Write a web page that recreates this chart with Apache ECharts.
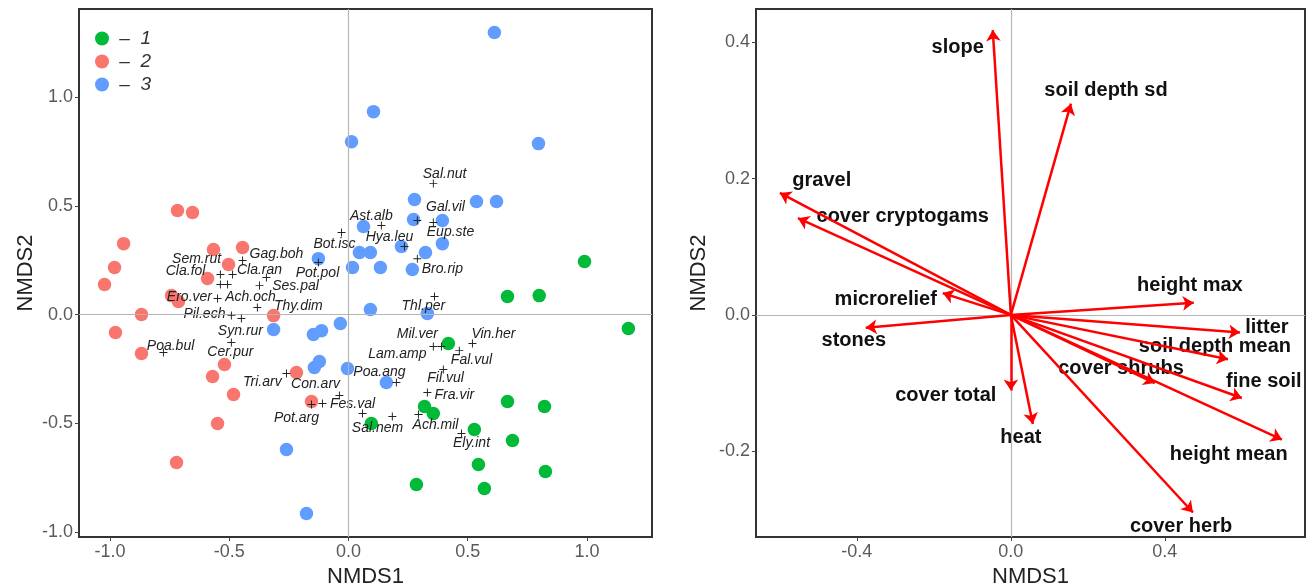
<!DOCTYPE html>
<html>
<head>
<meta charset="utf-8">
<script src="https://cdn.jsdelivr.net/npm/echarts@6/dist/echarts.min.js"></script>
<style>
html,body{margin:0;padding:0;background:#fff;}
#chart{width:1316px;height:585px;}
</style>
</head>
<body>
<div id="chart"></div>
<script>
// ---------- DATA ----------
const groupNames = ['1', '2', '3'];
// site scores (NMDS1, NMDS2) per group
const group1 = [[0.99,0.244],[0.667,0.083],[0.80,0.087],[1.174,-0.064],[0.419,-0.133],[0.319,-0.423],[0.356,-0.455],[0.667,-0.40],[0.822,-0.423],[0.096,-0.501],[0.528,-0.529],[0.688,-0.579],[0.545,-0.690],[0.826,-0.722],[0.285,-0.782],[0.570,-0.80]];
const group2 = [[-0.717,0.478],[-0.654,0.469],[-0.943,0.326],[-0.981,0.216],[-1.023,0.138],[-0.566,0.299],[-0.444,0.308],[-0.503,0.230],[-0.591,0.166],[-0.742,0.087],[-0.713,0.060],[-0.868,0.0],[-0.314,-0.005],[-0.977,-0.083],[-0.868,-0.179],[-0.520,-0.230],[-0.570,-0.285],[-0.218,-0.267],[-0.482,-0.368],[-0.155,-0.40],[-0.549,-0.501],[-0.721,-0.680]];
const group3 = [[0.612,1.297],[0.105,0.933],[0.013,0.795],[0.797,0.786],[0.277,0.529],[0.537,0.520],[0.621,0.520],[0.063,0.405],[0.273,0.437],[0.394,0.432],[0.394,0.326],[0.222,0.313],[0.046,0.285],[0.092,0.285],[0.323,0.285],[-0.126,0.257],[0.017,0.216],[0.134,0.216],[0.268,0.207],[0.092,0.023],[0.331,0.005],[-0.034,-0.041],[-0.113,-0.074],[-0.147,-0.092],[-0.314,-0.069],[-0.143,-0.244],[-0.122,-0.216],[-0.004,-0.248],[0.159,-0.313],[-0.260,-0.621],[-0.176,-0.915]];
// species scores (+ markers)
const speciesNames = ['Sal.nut','Ast.alb','Gal.vil','Eup.ste','Bot.isc','Hya.leu','Bro.rip','Pot.pol','Gag.boh','Sem.rut','Cla.fol','Cla.ran','Ero.ver','Ach.och','Ses.pal','','Thy.dim','Pil.ech','Syn.rur','Cer.pur','Poa.bul','Tri.arv','Con.arv','Fes.val','Pot.arg','Sal.nem','','Ach.mil','Ely.int','Fra.vir','Fil.vul','Fal.vul','Lam.amp','Mil.ver','Vin.her','Thl.per','Poa.ang'];
const speciesScores = [[0.356,0.602],[0.138,0.409],[0.289,0.432],[0.356,0.423],[-0.029,0.377],[0.235,0.313],[0.289,0.257],[-0.126,0.239],[-0.444,0.248],[-0.537,0.184],[-0.486,0.184],[-0.344,0.170],[-0.537,0.138],[-0.507,0.138],[-0.373,0.133],[-0.549,0.074],[-0.382,0.032],[-0.491,-0.005],[-0.449,-0.018],[-0.491,-0.129],[-0.776,-0.175],[-0.260,-0.271],[-0.038,-0.372],[-0.109,-0.409],[-0.155,-0.414],[0.059,-0.455],[0.184,-0.469],[0.294,-0.460],[0.474,-0.547],[0.331,-0.359],[0.398,-0.253],[0.465,-0.166],[0.390,-0.147],[0.356,-0.147],[0.520,-0.133],[0.361,0.083],[0.201,-0.313]];
// species label anchor points (data units)
const speciesLabelPos = [[0.403,0.648],[0.096,0.451],[0.407,0.492],[0.428,0.377],[-0.059,0.322],[0.172,0.354],[0.394,0.207],[-0.130,0.189],[-0.302,0.280],[-0.637,0.253],[-0.683,0.198],[-0.373,0.202],[-0.667,0.078],[-0.411,0.078],[-0.222,0.133],null,[-0.210,0.037],[-0.604,0.0],[-0.453,-0.078],[-0.495,-0.175],[-0.746,-0.143],[-0.361,-0.313],[-0.138,-0.322],[0.017,-0.414],[-0.218,-0.478],[0.122,-0.520],null,[0.365,-0.510],[0.516,-0.589],[0.444,-0.372],[0.407,-0.294],[0.516,-0.211],[0.205,-0.184],[0.289,-0.092],[0.608,-0.092],[0.314,0.037],[0.130,-0.267]];
// environmental vectors
const envNames = ['slope','soil depth sd','gravel','cover cryptogams','microrelief','stones','cover total','heat','height max','litter','soil depth mean','cover shrubs','fine soil','height mean','cover herb'];
const envVectors = [[-0.047,0.418],[0.156,0.310],[-0.600,0.179],[-0.553,0.142],[-0.177,0.032],[-0.377,-0.019],[0.0,-0.111],[0.057,-0.160],[0.475,0.018],[0.595,-0.026],[0.564,-0.065],[0.374,-0.100],[0.600,-0.122],[0.704,-0.183],[0.473,-0.290]];
const envLabelPos = [[-0.138,0.393],[0.247,0.330],[-0.491,0.198],[-0.281,0.144],[-0.325,0.023],[-0.408,-0.038],[-0.169,-0.119],[0.026,-0.180],[0.465,0.043],[0.665,-0.018],[0.530,-0.047],[0.286,-0.078],[0.657,-0.097],[0.566,-0.205],[0.442,-0.311]];
// tick labels
const leftXTicks = [-1.0,-0.5,0.0,0.5,1.0];
const leftYTicks = [-1.0,-0.5,0.0,0.5,1.0];
const rightXTicks = [-0.4,0.0,0.4];
const rightYTicks = [-0.2,0.0,0.2,0.4];

// ---------- CHART ----------
const colors = ['#00BA38', '#F8766D', '#619CFF'];
const FONT = '"Liberation Sans", Arial, sans-serif';
const tickColor = '#5a5a5a';
const chart = echarts.init(document.getElementById('chart'));

function valueAxis(gridIndex, min, max, ticks, name, gap) {
  return {
    type: 'value', gridIndex, min, max,
    name, nameLocation: 'middle', nameGap: gap,
    nameTextStyle: { fontFamily: FONT, fontSize: 22, color: '#222' },
    axisLine: { show: false, onZero: false },
    axisTick: { show: true, length: 4, lineStyle: { color: '#444', width: 1 }, customValues: ticks },
    axisLabel: { customValues: ticks, fontFamily: FONT, fontSize: 18, color: tickColor, margin: 6,
      formatter: v => v.toFixed(1) },
    splitLine: { show: false }
  };
}

const plusPath = 'path://M4.4,0H5.6V4.4H10V5.6H5.6V10H4.4V5.6H0V4.4H4.4Z';

const series = [];
// zero reference lines
[0, 1].forEach(k => series.push({
  type: 'scatter', xAxisIndex: k, yAxisIndex: k, data: [], silent: true, z: 1,
  markLine: { silent: true, symbol: 'none', label: { show: false }, animation: false,
    lineStyle: { color: '#b5b5b5', width: 1.2, type: 'solid', opacity: 1 },
    data: [{ xAxis: 0 }, { yAxis: 0 }] }
}));
[group1, group2, group3].forEach((g, i) => {
  series.push({
    type: 'scatter', name: groupNames[i], xAxisIndex: 0, yAxisIndex: 0,
    data: g, symbol: 'circle', symbolSize: 13.5, z: 3,
    itemStyle: { color: colors[i], opacity: 1 }
  });
});
series.push({
  type: 'scatter', xAxisIndex: 0, yAxisIndex: 0, z: 5,
  data: speciesScores, symbol: plusPath, symbolSize: 8,
  itemStyle: { color: '#222', opacity: 1 }
});
series.push({
  type: 'scatter', xAxisIndex: 0, yAxisIndex: 0, z: 4, symbolSize: 0,
  itemStyle: { opacity: 1 },
  data: speciesLabelPos.map((p, i) => p ? { name: speciesNames[i], value: p } : null).filter(Boolean),
  label: { show: true, position: 'inside', formatter: p => p.name, opacity: 1,
    fontFamily: FONT, fontStyle: 'italic', fontSize: 14, color: '#222' }
});
// environmental arrows
series.push({
  type: 'scatter', xAxisIndex: 1, yAxisIndex: 1, z: 3, symbolSize: 0,
  itemStyle: { opacity: 1 },
  data: envLabelPos.map((p, i) => ({ name: envNames[i], value: p })),
  label: { show: true, position: 'inside', formatter: p => p.name, opacity: 1,
    fontFamily: FONT, fontWeight: 'bold', fontSize: 20, color: '#111' }
});
series.push({
  type: 'lines', coordinateSystem: 'cartesian2d', xAxisIndex: 1, yAxisIndex: 1, z: 6,
  data: envVectors.map(v => ({ coords: [[0, 0], v] })),
  symbol: ['none', 'arrow'], symbolSize: [0, 11],
  lineStyle: { color: '#ff0000', width: 2.5, opacity: 1 },
  silent: true, animation: false
});

chart.setOption({
  animation: false,
  textStyle: { fontFamily: FONT },
  grid: [
    { left: 79, top: 9, width: 573, height: 528, show: true, borderColor: '#333', borderWidth: 2, backgroundColor: 'transparent', outerBoundsMode: 'none' },
    { left: 756, top: 9, width: 549, height: 528, show: true, borderColor: '#333', borderWidth: 2, backgroundColor: 'transparent', outerBoundsMode: 'none' }
  ],
  xAxis: [
    valueAxis(0, -1.130, 1.273, leftXTicks, 'NMDS1', 24),
    valueAxis(1, -0.662, 0.764, rightXTicks, 'NMDS1', 24)
  ],
  yAxis: [
    valueAxis(0, -1.023, 1.405, leftYTicks, 'NMDS2', 42),
    valueAxis(1, -0.326, 0.449, rightYTicks, 'NMDS2', 46)
  ],
  legend: {
    data: groupNames, orient: 'vertical', left: 90, top: 24,
    icon: 'circle', itemWidth: 14, itemHeight: 14, itemGap: 4,
    formatter: n => ' –  ' + n,
    textStyle: { fontFamily: FONT, fontSize: 19, fontStyle: 'italic', color: '#333', lineHeight: 17 },
    selectedMode: false
  },
  series
});
</script>
</body>
</html>
